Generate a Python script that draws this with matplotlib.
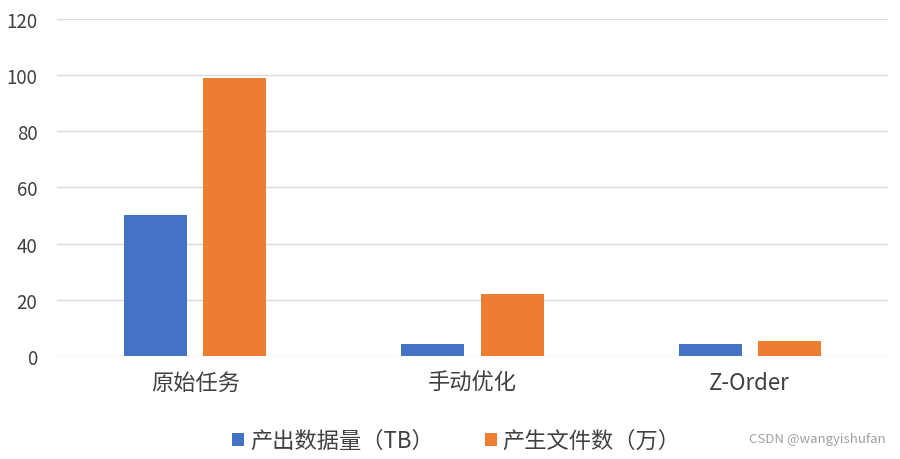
import matplotlib
matplotlib.use("Agg")
import matplotlib.pyplot as plt
import numpy as np

plt.rcParams['font.family'] = ['Noto Sans CJK SC', 'DejaVu Sans']

categories = ["原始任务", "手动优化", "Z-Order"]
data_tb = [50, 4.1, 4.1]
files_wan = [99, 22, 5.3]
series_names = ["产出数据量（TB）", "产生文件数（万）"]
colors = ["#4472C4", "#ED7D31"]

fig = plt.figure(figsize=(9, 4.6), dpi=100)
ax = fig.add_axes([0.063, 0.224, 0.924, 0.733])

x = np.arange(len(categories))
w = 0.227
off = 0.143
b1 = ax.bar(x - off, data_tb, w, color=colors[0], label=series_names[0], zorder=3)
b2 = ax.bar(x + off, files_wan, w, color=colors[1], label=series_names[1], zorder=3)

ax.set_xlim(-0.5, len(categories) - 0.5)
ax.set_ylim(0, 120)
ax.set_yticks(range(0, 121, 20))
ax.grid(axis="y", color="#d9d9d9", linewidth=1, zorder=0)
for s in ax.spines.values():
    s.set_visible(False)
ax.tick_params(axis="both", length=0, labelcolor="#404040")
ax.tick_params(axis="y", pad=14, labelsize=13.5)
ax.tick_params(axis="x", pad=11, labelsize=16)
ax.set_xticks(x)
ax.set_xticklabels(categories)

fig.legend(handles=[b1, b2], loc="center", bbox_to_anchor=(0.507, 0.04), ncol=2,
           frameon=False, fontsize=16, handlelength=0.55, handleheight=0.55,
           handletextpad=0.25, columnspacing=2.3, labelcolor="#404040",
           borderaxespad=0)
fig.text(0.984, 0.045, "CSDN @wangyishufan", ha="right", va="center",
         fontsize=9.5, color="#a0a0a0")

fig.savefig("out.png", dpi=100)
